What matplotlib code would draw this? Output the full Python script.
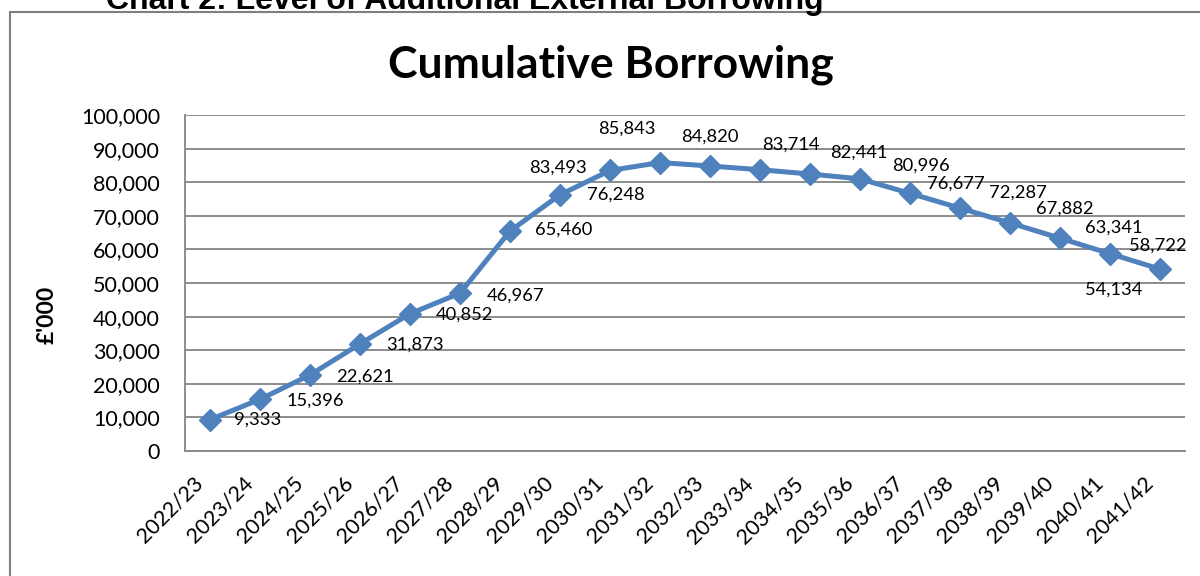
import matplotlib
matplotlib.use("Agg")
import matplotlib.pyplot as plt
from matplotlib.patches import Rectangle
from matplotlib.ticker import FuncFormatter, MultipleLocator
import matplotlib.transforms as mtransforms

years = ["2022/23", "2023/24", "2024/25", "2025/26", "2026/27", "2027/28", "2028/29",
         "2029/30", "2030/31", "2031/32", "2032/33", "2033/34", "2034/35", "2035/36",
         "2036/37", "2037/38", "2038/39", "2039/40", "2040/41", "2041/42"]
borrowing = [9333, 15396, 22621, 31873, 40852, 46967, 65460, 76248, 83493, 85843,
             84820, 83714, 82441, 80996, 76677, 72287, 67882, 63341, 58722, 54134]

# label offsets in pixels (dx, dy)
label_dx = [48, 55, 55, 55, 55, 56, 54, 56, -52, -33, 0, 31, 49, 61, 46, 58, 55, 54, 48, -46]
label_dy = [0, -1, -2, -1, -1, -2, 1, 0, 3, 34, 29, 25, 21, 13, 10, 15, 14, 11, 8, -21]

plt.rcParams['font.family'] = ['Lato', 'DejaVu Sans']

fig = plt.figure(figsize=(12, 5.76), dpi=100)
ax = fig.add_axes([185/1200, 1-451/576, 1000/1200, 336/576])

line_color = "#4F81BD"
x = list(range(len(years)))
ax.plot(x, borrowing, color=line_color, lw=3.6, marker='D', markersize=11,
        markeredgecolor=line_color, markerfacecolor=line_color, zorder=3, clip_on=False)

for i, v in enumerate(borrowing):
    ax.annotate(f"{v:,}", (i, v), xytext=(label_dx[i], label_dy[i]),
                textcoords='offset pixels', ha='center', va='center',
                fontsize=13.2, color='black', zorder=4)

ax.set_xlim(-0.5, len(years) - 0.5)
ax.set_ylim(0, 100000)
ax.yaxis.set_major_locator(MultipleLocator(10000))
ax.yaxis.set_major_formatter(FuncFormatter(lambda v, p: f"{int(v):,}"))
ax.grid(axis='y', color='#8c8c8c', lw=1.4)
ax.set_axisbelow(True)
for s in ['top', 'right']:
    ax.spines[s].set_visible(False)
for s in ['left', 'bottom']:
    ax.spines[s].set_color('#8c8c8c')
    ax.spines[s].set_linewidth(1.4)

ax.set_xticks(x)
ax.set_xticklabels(years, rotation=45, ha='right', va='center', rotation_mode='anchor', fontsize=15.5)
ax.tick_params(axis='x', length=0, pad=21)
ax.tick_params(axis='y', length=0, pad=18, labelsize=15.5)
offset = mtransforms.ScaledTranslation(-10/100, 0, fig.dpi_scale_trans)
for lab in ax.get_xticklabels():
    lab.set_transform(lab.get_transform() + offset)

ax.set_ylabel("£'000", fontsize=16.5, fontweight='bold')
ax.yaxis.set_label_coords((58 - 185) / 1000, (451 - 315) / 336)

fig.text(611/1200, 1-65/576, "Cumulative Borrowing", ha='center', va='center',
         fontsize=32, fontweight='bold')
fig.text(465/1200, 1-9/576, "Chart 2: Level of Additional External Borrowing",
         ha='center', va='baseline', fontsize=23, fontweight='bold',
         family=['Liberation Sans', 'DejaVu Sans'])

fig.patches.append(Rectangle((10/1200, -0.1), 1.2, 1.1 - 12.5/576, transform=fig.transFigure,
                             fill=False, edgecolor='#7f7f7f', lw=1.5))

fig.savefig("out.png", dpi=100)
